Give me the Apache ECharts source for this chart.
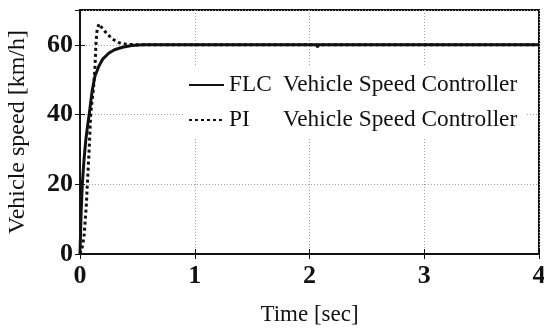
<!DOCTYPE html>
<html>
<head>
<meta charset="utf-8">
<script src="https://cdn.jsdelivr.net/npm/echarts@6/dist/echarts.min.js"></script>
<style>
  html, body { margin: 0; padding: 0; background: #fff; }
  #chart { width: 544px; height: 329px; }
</style>
</head>
<body>
<div id="chart"></div>
<script>
// Step response of the vehicle speed loop: time [s] vs speed [km/h]
const flcTime  = [0, 0.004, 0.01, 0.02, 0.035, 0.05, 0.065, 0.08, 0.095, 0.107, 0.13, 0.166, 0.2, 0.25, 0.3, 0.37, 0.45, 0.55, 1.0, 2.0, 2.06, 2.07, 2.08, 3.0, 4.0];
const flcSpeed = [0, 5, 12, 20, 27, 32.5, 36.5, 40, 44, 47, 51, 54, 56, 57.6, 58.6, 59.3, 59.8, 60, 60, 60, 60, 59.4, 60, 60, 60];

const piTime  = [0, 0.01, 0.02, 0.035, 0.044, 0.055, 0.064, 0.08, 0.093, 0.105, 0.116, 0.13, 0.14, 0.15, 0.166, 0.18, 0.2, 0.23, 0.28, 0.34, 0.4, 0.5, 0.6, 1.0, 4.0];
const piSpeed = [0, 0.5, 2, 5, 9, 14, 20, 30, 40, 44, 47, 53.4, 61, 64.5, 66, 65.5, 64.5, 63.4, 61.7, 60.6, 60.2, 60, 60, 60, 60];

const xTicks = [0, 1, 2, 3, 4];
const yTicks = [0, 20, 40, 60];

const flcName = 'FLC Vehicle Speed Controller';
const piName  = 'PI Vehicle Speed Controller';

const pair = (xs, ys) => xs.map((x, i) => [x, ys[i]]);

const serif = '"Liberation Serif", "DejaVu Serif", serif';
const gridLine = { show: true, lineStyle: { color: '#a0a0a0', type: [1, 2], width: 1 } };
const frameLine = { show: true, lineStyle: { color: '#111', width: 2 } };
const inTick = { show: true, inside: true, length: 5, lineStyle: { color: '#111' } };

const chart = echarts.init(document.getElementById('chart'), null, { renderer: 'canvas' });
chart.setOption({
  animation: false,
  backgroundColor: '#fff',
  grid: { left: 80, right: 5, top: 10, bottom: 75, outerBoundsMode: 'none', containLabel: false,
          show: true, borderColor: '#111', borderWidth: 2, backgroundColor: 'transparent' },
  xAxis: [{
    type: 'value', min: xTicks[0], max: xTicks[xTicks.length - 1], interval: 1,
    name: 'Time [sec]', nameLocation: 'middle', nameGap: 49,
    nameTextStyle: { fontFamily: serif, fontSize: 23, color: '#111' },
    axisLine: frameLine, axisTick: inTick,
    axisLabel: { fontFamily: serif, fontSize: 26, fontWeight: 'bold', color: '#111', margin: 9 },
    splitLine: gridLine
  }, {
    type: 'value', position: 'top', min: xTicks[0], max: xTicks[xTicks.length - 1], interval: 1,
    axisLine: frameLine, axisTick: inTick,
    axisLabel: { show: false }, splitLine: { show: false }
  }],
  yAxis: [{
    type: 'value', min: 0, max: 70, interval: 20,
    name: 'Vehicle speed [km/h]', nameLocation: 'middle', nameGap: 50, nameRotate: 90,
    nameTextStyle: { fontFamily: serif, fontSize: 24, color: '#111' },
    axisLine: frameLine, axisTick: inTick,
    axisLabel: { fontFamily: serif, fontSize: 26, fontWeight: 'bold', color: '#111', margin: 7, showMaxLabel: false,
      formatter: v => (yTicks.indexOf(v) >= 0 ? String(v) : '') },
    splitLine: gridLine
  }, {
    type: 'value', position: 'right', min: 0, max: 70, interval: 20,
    axisLine: frameLine, axisTick: inTick,
    axisLabel: { show: false }, splitLine: { show: false }
  }],
  legend: {
    left: 183, top: 66, orient: 'vertical',
    backgroundColor: '#fff', padding: [6, 10, 6, 5],
    itemWidth: 35, itemHeight: 14, itemGap: 9,
    itemStyle: { opacity: 0 },
    data: [flcName, piName],
    formatter: name => {
      const parts = name.split(' ');
      return '{a|' + parts[0] + '}{b|' + parts.slice(1).join(' ') + '}';
    },
    textStyle: {
      fontFamily: serif, fontSize: 23.3, color: '#111', lineHeight: 26,
      rich: {
        a: { fontFamily: serif, fontSize: 23.3, color: '#111', width: 54 },
        b: { fontFamily: serif, fontSize: 23.3, color: '#111' }
      }
    }
  },
  series: [{
    name: piName, type: 'line', showSymbol: false, symbol: 'none', z: 3,
    data: pair(piTime, piSpeed),
    lineStyle: { color: '#111', width: 3, type: [3, 3] },
    itemStyle: { color: '#111' }
  }, {
    name: flcName, type: 'line', showSymbol: false, symbol: 'none', z: 4,
    data: pair(flcTime, flcSpeed),
    lineStyle: { color: '#111', width: 3 },
    itemStyle: { color: '#111' }
  }]
});
</script>
</body>
</html>
